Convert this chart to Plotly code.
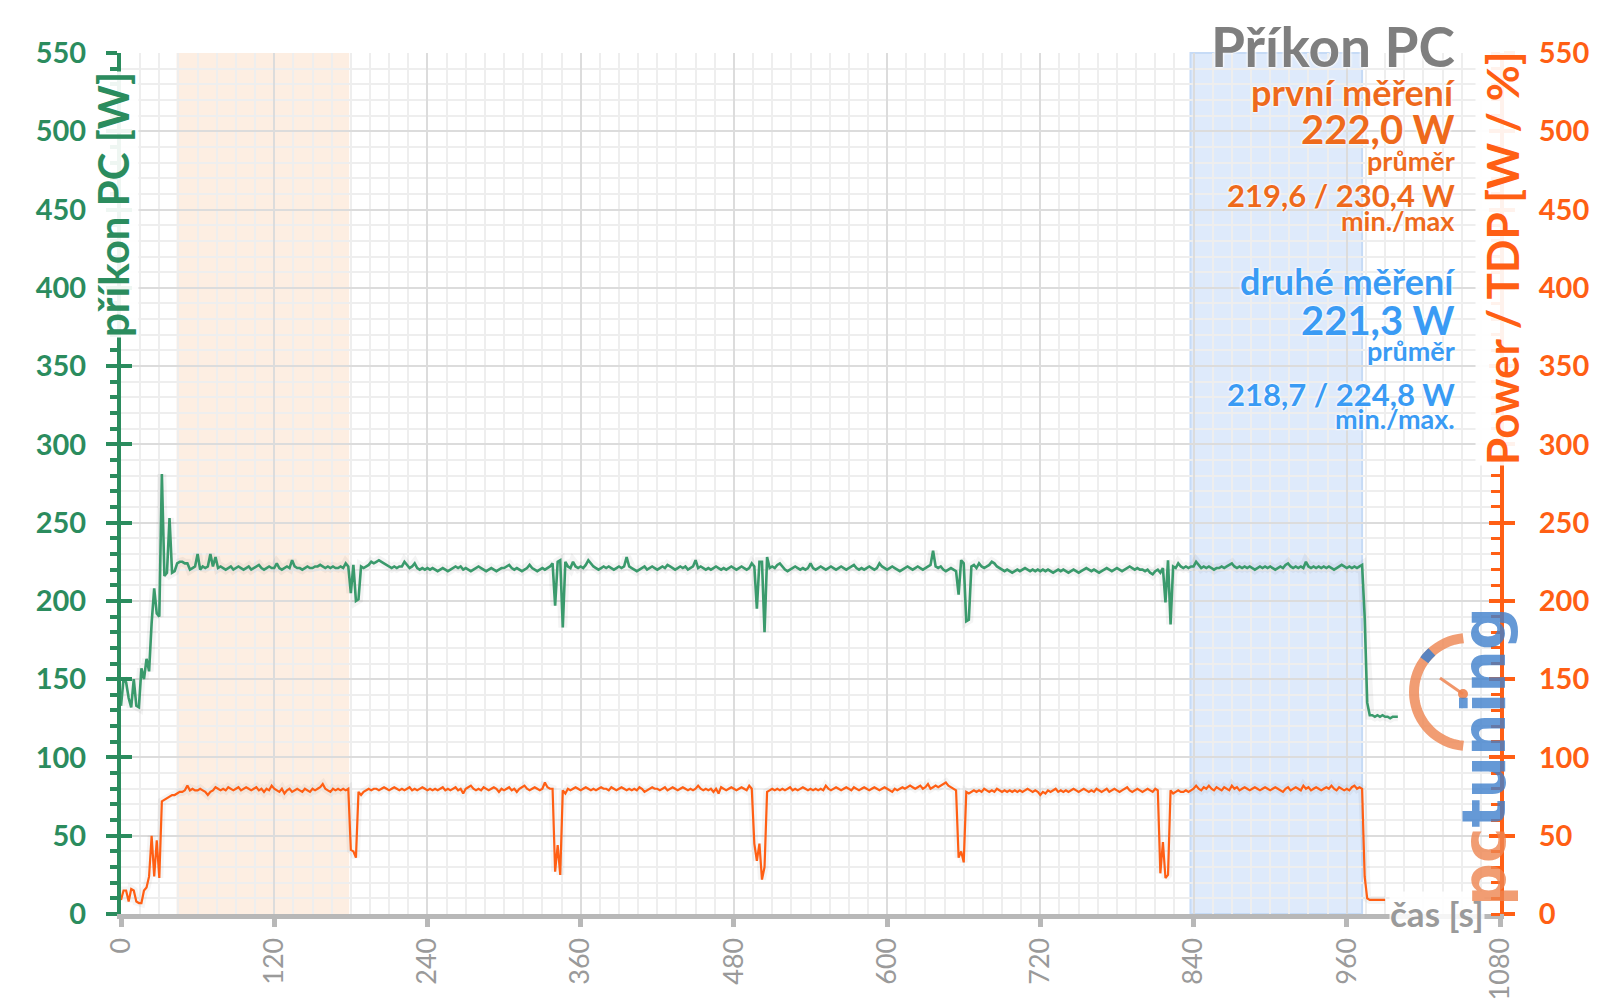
import math
import plotly.graph_objects as go

# ---------------- data ----------------
T_PC = list(range(0, 1001, 2))          # time [s]
PC_W = [
    133, 150, 148, 138, 132, 150, 133, 132, 157, 150,
    163, 155, 186, 208, 192, 190, 281, 216, 218, 253,
    218, 219, 224, 225, 225, 224, 224, 220, 221, 222,
    230, 220, 222, 221, 222, 230, 222, 228, 221, 222,
    221, 220, 221, 222, 220, 221, 222, 221, 220, 221,
    222, 220, 221, 222, 223, 221, 220, 221, 222, 221,
    221, 224, 221, 220, 221, 222, 221, 226, 222, 221,
    221, 220, 221, 222, 221, 221, 222, 222, 223, 222,
    221, 222, 221, 222, 221, 221, 222, 221, 224, 222,
    205, 223, 200, 201, 222, 221, 222, 223, 225, 224,
    225, 226, 225, 224, 223, 222, 221, 222, 221, 222,
    222, 225, 223, 221, 222, 224, 221, 220, 221, 220,
    221, 220, 221, 220, 219, 220, 221, 220, 219, 220,
    221, 222, 221, 222, 220, 221, 220, 219, 220, 221,
    222, 221, 220, 219, 220, 221, 220, 219, 220, 221,
    221, 222, 223, 221, 220, 221, 220, 219, 220, 221,
    223, 221, 220, 219, 220, 221, 220, 221, 222, 224,
    197, 225, 226, 183, 225, 222, 221, 225, 222, 221,
    222, 221, 223, 226, 224, 222, 221, 220, 221, 222,
    221, 222, 221, 220, 221, 222, 221, 222, 228, 222,
    221, 220, 219, 220, 221, 222, 220, 221, 222, 221,
    220, 221, 222, 221, 223, 222, 221, 220, 221, 222,
    221, 222, 220, 221, 222, 226, 221, 222, 221, 220,
    221, 220, 221, 222, 221, 220, 221, 220, 221, 222,
    221, 220, 221, 222, 221, 220, 221, 224, 222, 195,
    225, 225, 180, 228, 221, 222, 221, 223, 224, 222,
    220, 219, 220, 221, 222, 221, 220, 221, 220, 221,
    224, 221, 220, 221, 222, 221, 220, 221, 222, 221,
    220, 221, 222, 221, 220, 221, 222, 223, 221, 220,
    221, 220, 221, 222, 221, 220, 221, 224, 222, 221,
    220, 221, 222, 221, 220, 219, 220, 221, 222, 221,
    220, 221, 222, 221, 220, 221, 222, 223, 232, 222,
    221, 222, 220, 219, 220, 221, 220, 219, 204, 226,
    224, 187, 188, 222, 223, 221, 224, 222, 221, 222,
    223, 225, 224, 222, 221, 220, 219, 220, 219, 218,
    219, 220, 219, 220, 221, 220, 219, 220, 219, 220,
    219, 220, 219, 220, 219, 218, 219, 220, 219, 220,
    219, 218, 219, 220, 219, 218, 219, 220, 221, 220,
    219, 220, 219, 218, 219, 220, 221, 220, 219, 220,
    221, 220, 219, 220, 221, 222, 221, 220, 221, 220,
    220, 219, 220, 218, 217, 219, 220, 218, 221, 199,
    226, 185, 222, 221, 224, 222, 221, 222, 221, 222,
    222, 225, 223, 221, 222, 221, 222, 221, 220, 221,
    221, 222, 221, 222, 223, 224, 222, 221, 222, 221,
    222, 221, 222, 221, 220, 221, 222, 221, 222, 221,
    222, 221, 220, 221, 222, 221, 223, 224, 222, 221,
    222, 221, 222, 221, 225, 222, 221, 222, 221, 222,
    221, 222, 221, 222, 221, 220, 221, 222, 223, 222,
    221, 222, 221, 222, 221, 222, 223, 190, 135, 127,
    127, 126, 127, 126, 127, 126, 126, 125, 126, 126,
    126,
]

T_TDP = list(range(0, 991, 2))         # time [s]
TDP = [
    9, 15, 15, 8, 16, 15, 8, 7, 7, 15,
    17, 24, 50, 24, 47, 23, 72, 73, 74, 75,
    76, 76, 77, 78, 78, 79, 82, 79, 80, 79,
    79, 80, 79, 78, 76, 78, 79, 81, 80, 79,
    80, 79, 81, 80, 79, 80, 81, 79, 80, 81,
    80, 79, 80, 81, 79, 80, 78, 80, 79, 82,
    80, 79, 78, 80, 77, 79, 80, 78, 79, 80,
    79, 78, 80, 79, 78, 80, 79, 80, 81, 83,
    80, 79, 78, 80, 79, 80, 79, 80, 79, 80,
    41, 40, 36, 78, 76, 78, 79, 80, 79, 80,
    80, 79, 80, 81, 80, 79, 80, 81, 80, 79,
    80, 79, 80, 81, 79, 80, 79, 80, 81, 80,
    79, 80, 79, 80, 79, 80, 81, 79, 80, 79,
    80, 81, 79, 80, 77, 80, 81, 82, 80, 79,
    80, 79, 81, 80, 79, 80, 81, 80, 78, 80,
    79, 80, 81, 79, 80, 78, 80, 81, 82, 80,
    79, 80, 81, 80, 79, 80, 84, 81, 80, 80,
    27, 44, 25, 79, 77, 80, 79, 80, 81, 80,
    79, 80, 81, 80, 79, 80, 79, 80, 81, 80,
    80, 79, 81, 80, 79, 80, 81, 80, 79, 80,
    79, 80, 79, 81, 80, 78, 79, 80, 81, 80,
    80, 79, 80, 81, 79, 80, 81, 80, 79, 80,
    81, 80, 79, 80, 79, 80, 82, 80, 79, 80,
    79, 80, 78, 80, 77, 81, 80, 79, 80, 81,
    80, 79, 80, 81, 80, 79, 82, 80, 45, 34,
    45, 22, 30, 78, 79, 80, 79, 80, 79, 80,
    79, 80, 81, 79, 80, 79, 80, 81, 80, 79,
    80, 79, 80, 79, 80, 79, 82, 80, 79, 80,
    81, 80, 79, 80, 81, 80, 79, 81, 80, 79,
    80, 81, 80, 79, 80, 81, 80, 79, 80, 81,
    80, 79, 78, 80, 79, 80, 81, 80, 81, 82,
    81, 80, 81, 82, 80, 81, 83, 80, 81, 82,
    81, 82, 83, 84, 82, 81, 80, 79, 36, 40,
    33, 78, 77, 78, 79, 78, 79, 78, 80, 79,
    78, 79, 78, 80, 79, 78, 79, 78, 79, 78,
    79, 78, 79, 78, 79, 80, 79, 78, 79, 78,
    76, 78, 77, 79, 78, 79, 80, 78, 79, 78,
    79, 78, 79, 80, 79, 78, 79, 80, 79, 78,
    79, 78, 80, 79, 78, 79, 80, 78, 79, 80,
    79, 78, 79, 80, 81, 79, 78, 79, 80, 79,
    78, 79, 80, 79, 78, 80, 79, 26, 46, 23,
    25, 79, 77, 78, 79, 78, 78, 79, 78, 79,
    80, 82, 80, 79, 81, 80, 82, 80, 79, 81,
    80, 79, 81, 80, 79, 82, 80, 81, 79, 80,
    81, 80, 79, 80, 81, 80, 79, 80, 81, 80,
    79, 80, 81, 80, 79, 78, 80, 81, 79, 80,
    81, 80, 79, 82, 80, 81, 79, 80, 81, 80,
    79, 80, 81, 80, 82, 80, 79, 81, 80, 79,
    80, 79, 81, 82, 80, 81, 80, 24, 10, 9,
    9, 9, 9, 9, 9, 9,
]

X_TICKS = [0, 120, 240, 360, 480, 600, 720, 840, 960, 1080]
Y_RANGE = [0, 550]
ZONE_FIRST = [43.5, 178.7]
ZONE_SECOND = [837.6, 972.0]

TITLE = "Příkon PC"
Y_TITLE_LEFT = "příkon PC [W]"
Y_TITLE_RIGHT = "Power / TDP [W / %]"
X_TITLE = "čas [s]"
FIRST_LINES = ["první měření", "222,0 W", "průměr", "219,6 / 230,4 W", "min./max"]
SECOND_LINES = ["druhé měření", "221,3 W", "průměr", "218,7 / 224,8 W", "min./max."]

# ---------------- style ----------------
FONT = "Lato"
GREEN = "#2b8c5e"
LINE_GREEN = "#3a9a6c"
ORANGE = "#ff5f14"
TXT_ORANGE = "#ee6a1c"
BLUE = "#3a9bf4"
GRAY = "#7f7f7f"
AXGRAY = "#b8b8b8"

W, H = 1600, 1008
L, R, T, B = 121, 100, 53, 94
PW, PH = W - L - R, H - T - B


def px(x):
    return (x - L) / PW


def py(y):
    return (H - B - y) / PH


fig = go.Figure()
# soft shadows under the lines
fig.add_trace(go.Scatter(x=T_PC, y=PC_W, mode="lines", yaxis="y",
                         line=dict(color="rgba(0,0,0,0.045)", width=9), hoverinfo="skip"))
fig.add_trace(go.Scatter(x=T_TDP, y=TDP, mode="lines", yaxis="y2",
                         line=dict(color="rgba(0,0,0,0.04)", width=8), hoverinfo="skip"))
fig.add_trace(go.Scatter(x=T_PC, y=PC_W, mode="lines", yaxis="y",
                         line=dict(color=LINE_GREEN, width=2.6), hoverinfo="skip"))
fig.add_trace(go.Scatter(x=T_TDP, y=TDP, mode="lines", yaxis="y2",
                         line=dict(color=ORANGE, width=2.2), hoverinfo="skip"))
fig.add_trace(go.Scatter(x=[None], y=[None], yaxis="y3", hoverinfo="skip"))
fig.add_trace(go.Scatter(x=[None], y=[None], yaxis="y4", hoverinfo="skip"))

fig.add_shape(type="rect", xref="x", yref="paper", x0=ZONE_FIRST[0], x1=ZONE_FIRST[1],
              y0=0, y1=1, fillcolor="#fdeee2", line=dict(width=0), layer="below")
fig.add_shape(type="rect", xref="x", yref="paper", x0=ZONE_SECOND[0], x1=ZONE_SECOND[1],
              y0=0, y1=1, fillcolor="#deeafb", line=dict(width=2, color="#c6dbf6"), layer="below")

bold = dict(family=FONT, weight="bold")
glow = "0px 0px 3px #ffffff, 0px 0px 3px #ffffff, 0px 0px 2px #ffffff"
TX = 1457

fig.add_annotation(text=TITLE, xref="paper", yref="paper", x=px(TX), y=py(46),
                   xanchor="right", yanchor="middle", showarrow=False,
                   font=dict(size=55, color=GRAY, shadow=glow, **bold))

ys = [92, 129, 161, 195, 221]
sizes = [36, 40, 27, 31, 27]
for txt, yy, ss in zip(FIRST_LINES, ys, sizes):
    fig.add_annotation(text=txt, xref="paper", yref="paper", x=px(TX), y=py(yy),
                       xanchor="right", yanchor="middle", showarrow=False,
                       font=dict(size=ss, color=TXT_ORANGE, shadow=glow, **bold))
ys2 = [281, 320, 350, 394, 419]
for txt, yy, ss in zip(SECOND_LINES, ys2, sizes):
    fig.add_annotation(text=txt, xref="paper", yref="paper", x=px(TX), y=py(yy),
                       xanchor="right", yanchor="middle", showarrow=False,
                       font=dict(size=ss, color=BLUE, shadow=glow, **bold))

fig.add_annotation(text=Y_TITLE_LEFT, xref="paper", yref="paper", x=px(113), y=py(205),
                   xanchor="center", yanchor="middle", showarrow=False, textangle=-90,
                   bgcolor="rgba(255,255,255,0.92)", borderpad=0,
                   font=dict(size=42, color=GREEN, **bold))
fig.add_annotation(text=Y_TITLE_RIGHT, xref="paper", yref="paper", x=px(1502), y=py(258),
                   xanchor="center", yanchor="middle", showarrow=False, textangle=-90,
                   bgcolor="rgba(255,255,255,0.92)", borderpad=0,
                   font=dict(size=44, color=ORANGE, **bold))
fig.add_annotation(text=X_TITLE, xref="paper", yref="paper", x=px(1437), y=py(913),
                   xanchor="center", yanchor="middle", showarrow=False,
                   bgcolor="rgba(255,255,255,0.85)", borderpad=0,
                   font=dict(size=35, color="#9a9a9a", **bold))

# logo (decoration)
cx, cy, rr = 1468, 692, 54
pts = []
for a in range(95, 266, 5):
    ang = math.radians(a)
    pts.append((px(cx + rr * math.cos(ang)), py(cy - rr * math.sin(ang))))
path = "M " + " L ".join(f"{x:.5f},{y:.5f}" for x, y in pts)
fig.add_shape(type="path", xref="paper", yref="paper", path=path,
              line=dict(color="rgba(238,132,80,0.8)", width=10))
bpts = []
for a in range(132, 146, 3):
    ang = math.radians(a)
    bpts.append((px(cx + rr * math.cos(ang)), py(cy - rr * math.sin(ang))))
fig.add_shape(type="path", xref="paper", yref="paper",
              path="M " + " L ".join(f"{x:.5f},{y:.5f}" for x, y in bpts),
              line=dict(color="rgba(62,127,204,0.85)", width=10))
fig.add_shape(type="line", xref="paper", yref="paper", x0=px(1463), y0=py(694),
              x1=px(1440), y1=py(678), line=dict(color="rgba(238,132,80,0.85)", width=3))
fig.add_shape(type="circle", xref="paper", yref="paper", x0=px(1458), x1=px(1468),
              y0=py(699), y1=py(689), fillcolor="rgba(238,132,80,0.9)", line=dict(width=0))
fig.add_annotation(text="<span style='color:rgba(238,132,80,0.8)'>pc</span>"
                        "<span style='color:rgba(62,127,204,0.8)'>tuning</span>",
                   xref="paper", yref="paper", x=px(1484), y=py(757), textangle=-90,
                   xanchor="center", yanchor="middle", showarrow=False,
                   font=dict(size=60, family="DejaVu Sans", weight="bold"))

axis_common = dict(range=Y_RANGE, tick0=0, dtick=50, zeroline=False, fixedrange=True,
                   automargin=False)

fig.update_layout(
    width=W, height=H,
    margin=dict(l=L, r=R, t=T, b=B, autoexpand=False),
    paper_bgcolor="white", plot_bgcolor="white",
    showlegend=False, hovermode=False,
    xaxis=dict(range=[0, 1080], tickvals=X_TICKS, tickangle=-90,
               ticks="outside", ticklen=8, tickwidth=5, tickcolor=AXGRAY,
               showline=True, linecolor=AXGRAY, linewidth=5,
               showgrid=True, gridcolor="#dcdcdc", gridwidth=2,
               minor=dict(dtick=15, tick0=0, showgrid=True, gridcolor="#eeeeee", gridwidth=1.5),
               tickfont=dict(family=FONT, size=27, color="#9a9a9a"),
               zeroline=False, fixedrange=True, automargin=False),
    yaxis=dict(side="left", showline=True, linecolor=GREEN, linewidth=4,
               ticks="outside", ticklen=11, tickwidth=4, tickcolor=GREEN,
               tickfont=dict(size=29, color=GREEN, **bold), ticklabelstandoff=14,
               showgrid=True, gridcolor="#dcdcdc", gridwidth=2,
               minor=dict(dtick=10, tick0=0, ticks="outside", ticklen=7, tickwidth=4,
                          tickcolor=GREEN, showgrid=True, gridcolor="#eeeeee", gridwidth=1.5),
               **axis_common),
    yaxis2=dict(side="right", overlaying="y", anchor="x", showline=True, linecolor=ORANGE,
                linewidth=4, ticks="outside", ticklen=11, tickwidth=4, tickcolor=ORANGE,
                tickfont=dict(size=29, color=ORANGE, **bold), ticklabelstandoff=18,
                showgrid=False,
                minor=dict(dtick=10, tick0=0, ticks="inside", ticklen=9, tickwidth=3,
                           tickcolor=ORANGE, showgrid=False),
                **axis_common),
    yaxis3=dict(side="left", overlaying="y", anchor="x", showline=False, showgrid=False,
                ticks="inside", ticklen=11, tickwidth=4, tickcolor=GREEN,
                showticklabels=False, **axis_common),
    yaxis4=dict(side="right", overlaying="y", anchor="x", showline=False, showgrid=False,
                ticks="inside", ticklen=11, tickwidth=4, tickcolor=ORANGE,
                showticklabels=False, **axis_common),
)

fig.write_html("out.html")
